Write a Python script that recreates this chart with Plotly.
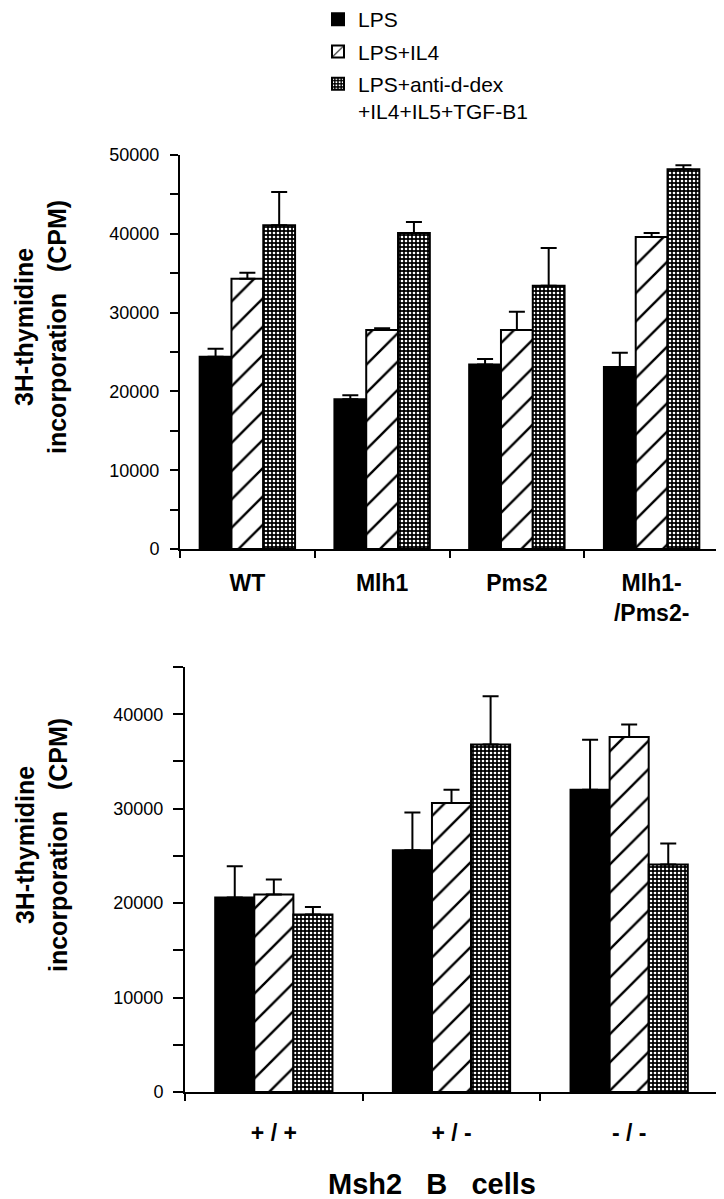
import plotly.graph_objects as go

# ---------------- data ----------------
series_names = ["LPS", "LPS+IL4", "LPS+anti-d-dex<br>+IL4+IL5+TGF-B1"]

top_groups = ["WT", "Mlh1", "Pms2", "Mlh1-<br>/Pms2-"]
top_lps = [24400, 19000, 23400, 23100]
top_il4 = [34300, 27800, 27800, 39600]
top_mix = [41100, 40100, 33400, 48200]
top_lps_err = [1000, 500, 700, 1800]
top_il4_err = [750, 200, 2300, 500]
top_mix_err = [4200, 1400, 4800, 500]

bot_groups = ["+ / +", "+ / -", "- / -"]
bot_lps = [20600, 25600, 32000]
bot_il4 = [20900, 30600, 37600]
bot_mix = [18800, 36800, 24100]
bot_lps_err = [3300, 4000, 5300]
bot_il4_err = [1600, 1400, 1300]
bot_mix_err = [800, 5100, 2200]

top_yticks = [0, 10000, 20000, 30000, 40000, 50000]
bot_yticks = [0, 10000, 20000, 30000, 40000]

# ---------------- style ----------------
FONT = "Liberation Sans, Arial, Helvetica, sans-serif"
PAGE_MARGIN = 8          # default <body> margin of the html page
W, H = 724 - PAGE_MARGIN, 1199 - PAGE_MARGIN

styles = [
    dict(color="black", pattern=None),
    dict(color="white", pattern=dict(shape="/", bgcolor="white", fgcolor="black",
                                     size=20, solidity=0.12, fillmode="replace")),
    dict(color="black", pattern=dict(shape=".", bgcolor="black", fgcolor="white",
                                     size=4, solidity=0.35, fillmode="replace")),
]

fig = go.Figure()


def add_panel(groups, vals, errs, xa, ya, width, show_legend):
    for i in range(len(vals)):
        st = styles[i]
        marker = dict(color=st["color"], line=dict(color="black", width=2))
        if st["pattern"] is not None:
            marker["pattern"] = st["pattern"]
        fig.add_trace(go.Bar(
            x=groups, y=vals[i], name=series_names[i],
            width=width, offset=-1.5 * width + i * width,
            marker=marker,
            error_y=dict(type="data", symmetric=False, array=errs[i],
                         arrayminus=[0] * len(groups), color="black",
                         thickness=2, width=8),
            xaxis=xa, yaxis=ya, showlegend=show_legend,
            legendgroup=str(i),
        ))


add_panel(top_groups, [top_lps, top_il4, top_mix],
          [top_lps_err, top_il4_err, top_mix_err], "x", "y", 0.236, True)
add_panel(bot_groups, [bot_lps, bot_il4, bot_mix],
          [bot_lps_err, bot_il4_err, bot_mix_err], "x2", "y2", 0.22, False)


def px_x(p):
    return (p - PAGE_MARGIN) / W


def px_y(p):
    return 1 - (p - PAGE_MARGIN) / H


axis_common = dict(showline=True, linecolor="black", linewidth=2, showgrid=False,
                   zeroline=False, ticks="outside", tickcolor="black", tickwidth=2,
                   mirror=False)

fig.update_layout(
    width=W, height=H,
    paper_bgcolor="white", plot_bgcolor="white",
    margin=dict(l=0, r=0, t=0, b=0, autoexpand=False),
    barmode="overlay",
    font=dict(family=FONT, color="black"),
    xaxis=dict(**axis_common, type="category", domain=[px_x(180), px_x(719)],
               range=[-0.5, 3.5], tickson="boundaries", ticklen=7,
               tickfont=dict(size=23, family=FONT, weight="bold"),
               ticklabelstandoff=12, anchor="y"),
    yaxis=dict(**axis_common, domain=[px_y(549), px_y(155)], range=[0, 50000],
               tickvals=top_yticks, ticktext=[str(v) for v in top_yticks],
               ticklen=8, tickfont=dict(size=18, family=FONT), ticklabelstandoff=7,
               minor=dict(dtick=5000, tick0=0, ticks="outside", ticklen=8,
                          tickwidth=2, tickcolor="black"),
               anchor="x"),
    xaxis2=dict(**axis_common, type="category", domain=[px_x(185), px_x(718)],
                range=[-0.5, 2.5], tickson="boundaries", ticklen=7,
                tickfont=dict(size=23, family=FONT, weight="bold"),
                ticklabelstandoff=19, anchor="y2"),
    yaxis2=dict(**axis_common, domain=[px_y(1092), px_y(667)], range=[0, 45000],
                tickvals=bot_yticks, ticktext=[str(v) for v in bot_yticks],
                ticklen=10, tickfont=dict(size=18, family=FONT), ticklabelstandoff=6,
                minor=dict(dtick=5000, tick0=0, ticks="outside", ticklen=10,
                           tickwidth=2, tickcolor="black"),
                anchor="x2"),
    legend=dict(x=px_x(318), y=1 + 9 / H, xanchor="left", yanchor="top",
                font=dict(size=21, family=FONT, color="black"),
                bgcolor="rgba(0,0,0,0)", valign="top", tracegroupgap=2,
                itemsizing="constant"),
    showlegend=True,
)

ytitle = "3H-thymidine<br>incorporation\u00a0\u00a0\u00a0(CPM)"
fig.add_annotation(text=ytitle, xref="paper", yref="paper", x=px_x(40), y=px_y(327),
                   xanchor="center", yanchor="middle", textangle=-90, showarrow=False,
                   font=dict(size=25, family=FONT, weight="bold", color="black"))
fig.add_annotation(text=ytitle, xref="paper", yref="paper", x=px_x(41), y=px_y(845),
                   xanchor="center", yanchor="middle", textangle=-90, showarrow=False,
                   font=dict(size=25, family=FONT, weight="bold", color="black"))
fig.add_annotation(text="Msh2\u00a0\u00a0\u00a0B\u00a0\u00a0\u00a0cells", xref="paper",
                   yref="paper", x=px_x(432), y=px_y(1184), xanchor="center",
                   yanchor="middle", showarrow=False,
                   font=dict(size=29, family=FONT, weight="bold", color="black"))

fig.write_html("out.html")
